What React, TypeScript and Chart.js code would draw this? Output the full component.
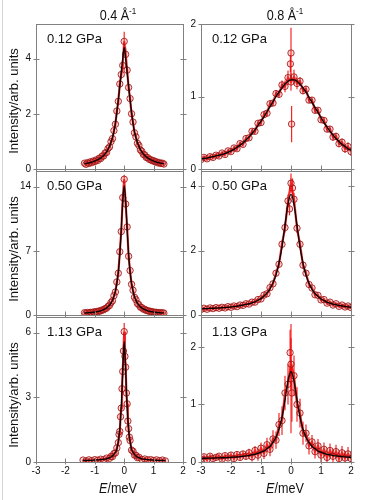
import React, { useEffect, useRef } from 'react';
import { Chart, registerables } from 'chart.js';
Chart.register(...registerables);

// ---------- data ----------
const xTicks = [-3, -2, -1, 0, 1, 2];
const yTicksA = [0, 2, 4];
const yTicksB = [0, 7, 14];
const yTicksC = [0, 3, 6];
const yTicksD = [0, 1, 2];
const yTicksE = [0, 2, 4];
const yTicksF = [0, 1, 2];

const xL = [-1.35,-1.3,-1.25,-1.2,-1.15,-1.1,-1.05,-1,-0.95,-0.9,-0.85,-0.8,-0.75,-0.7,-0.65,-0.6,-0.55,-0.5,-0.45,-0.4,-0.35,-0.3,-0.25,-0.2,-0.15,-0.1,-0.05,0,0.05,0.1,0.15,0.2,0.25,0.3,0.35,0.4,0.45,0.5,0.55,0.6,0.65,0.7,0.75,0.8,0.85,0.9,0.95,1,1.05,1.1,1.15,1.2,1.25,1.3,1.35];
const xC = [-1.4,-1.3,-1.2,-1.1,-1,-0.9,-0.8,-0.7,-0.6,-0.5,-0.45,-0.4,-0.35,-0.3,-0.25,-0.2,-0.175,-0.15,-0.125,-0.1,-0.075,-0.05,-0.025,0,0.025,0.05,0.075,0.1,0.125,0.15,0.175,0.2,0.25,0.3,0.35,0.4,0.45,0.5,0.6,0.7,0.8,0.9,1,1.1,1.2,1.3,1.4];
const xR = [-3,-2.9,-2.8,-2.7,-2.6,-2.5,-2.4,-2.3,-2.2,-2.1,-2,-1.9,-1.8,-1.7,-1.6,-1.5,-1.4,-1.3,-1.2,-1.1,-1,-0.9,-0.8,-0.7,-0.6,-0.5,-0.4,-0.3,-0.2,-0.1,0,0.1,0.2,0.3,0.4,0.5,0.6,0.7,0.8,0.9,1,1.1,1.2,1.3,1.4,1.5,1.6,1.7,1.8,1.9,2];

// 0.4 Å-1, 0.12 GPa
const fitA = [0.19,0.2,0.21,0.22,0.235,0.25,0.27,0.29,0.31,0.335,0.365,0.4,0.44,0.49,0.55,0.62,0.71,0.82,0.96,1.13,1.35,1.65,2.05,2.5,3.0,3.5,4.0,4.4,4.0,3.5,3.0,2.5,2.05,1.65,1.35,1.13,0.96,0.82,0.71,0.62,0.55,0.49,0.44,0.4,0.365,0.335,0.31,0.29,0.27,0.25,0.235,0.22,0.21,0.2,0.19];
const dataA = [0.21,0.17,0.23,0.2,0.26,0.23,0.29,0.27,0.33,0.31,0.39,0.38,0.47,0.47,0.58,0.6,0.74,0.8,0.99,1.1,1.39,1.62,2.1,2.45,3.08,3.42,3.75,4.62,4.15,3.58,2.95,2.55,2.0,1.7,1.31,1.16,0.93,0.85,0.69,0.64,0.53,0.51,0.42,0.41,0.35,0.34,0.3,0.3,0.26,0.26,0.22,0.23,0.2,0.21,0.18];
const errA = [0.03,0.03,0.03,0.03,0.03,0.03,0.03,0.03,0.03,0.03,0.03,0.03,0.04,0.04,0.04,0.04,0.05,0.05,0.06,0.06,0.07,0.08,0.09,0.1,0.12,0.15,0.25,0.35,0.25,0.15,0.12,0.1,0.09,0.08,0.07,0.06,0.06,0.05,0.05,0.04,0.04,0.04,0.04,0.03,0.03,0.03,0.03,0.03,0.03,0.03,0.03,0.03,0.03,0.03,0.03];

// 0.4 Å-1, 0.50 GPa
const fitB = [0.22,0.23,0.24,0.25,0.26,0.28,0.3,0.32,0.35,0.38,0.42,0.46,0.52,0.59,0.67,0.77,0.9,1.08,1.3,1.6,2.0,2.6,3.45,4.7,6.6,9.3,12.4,14.1,12.4,9.3,6.6,4.7,3.45,2.6,2.0,1.6,1.3,1.08,0.9,0.77,0.67,0.59,0.52,0.46,0.42,0.38,0.35,0.32,0.3,0.28,0.26,0.25,0.24,0.23,0.22];
const dataB = [0.25,0.2,0.27,0.22,0.29,0.25,0.33,0.3,0.38,0.35,0.45,0.44,0.55,0.57,0.7,0.74,0.94,1.04,1.35,1.55,2.1,2.5,3.6,4.55,6.9,9.1,12.8,14.8,12.1,9.6,6.4,4.85,3.35,2.7,1.93,1.66,1.25,1.12,0.86,0.8,0.64,0.62,0.5,0.48,0.4,0.4,0.33,0.33,0.28,0.29,0.24,0.26,0.22,0.24,0.21];
const errB = [0.05,0.05,0.05,0.05,0.05,0.05,0.05,0.05,0.05,0.05,0.05,0.05,0.06,0.06,0.06,0.06,0.07,0.07,0.08,0.08,0.1,0.12,0.15,0.18,0.25,0.3,0.35,0.5,0.35,0.3,0.25,0.18,0.15,0.12,0.1,0.08,0.08,0.07,0.07,0.06,0.06,0.06,0.06,0.05,0.05,0.05,0.05,0.05,0.05,0.05,0.05,0.05,0.05,0.05,0.05];

// 0.4 Å-1, 1.13 GPa
const fitC = [0.07,0.07,0.08,0.08,0.09,0.1,0.11,0.13,0.15,0.2,0.23,0.28,0.35,0.45,0.6,0.95,1.2,1.5,2.0,2.6,3.3,4.3,5.0,5.6,5.0,4.3,3.3,2.6,2.0,1.5,1.2,0.95,0.6,0.45,0.35,0.28,0.23,0.2,0.15,0.13,0.11,0.1,0.09,0.08,0.08,0.07,0.07];
const dataC = [0.09,0.05,0.1,0.06,0.11,0.08,0.13,0.11,0.18,0.17,0.26,0.25,0.39,0.42,0.65,0.9,1.28,1.42,2.1,2.5,3.4,4.2,5.15,6.05,4.9,4.4,3.2,2.7,1.9,1.55,1.15,1.0,0.55,0.5,0.32,0.31,0.2,0.22,0.12,0.14,0.1,0.11,0.07,0.1,0.06,0.09,0.05];
const errC = [0.03,0.03,0.03,0.03,0.03,0.03,0.03,0.03,0.03,0.04,0.04,0.05,0.05,0.06,0.07,0.08,0.1,0.12,0.15,0.18,0.2,0.25,0.3,0.4,0.3,0.25,0.2,0.18,0.15,0.12,0.1,0.08,0.07,0.06,0.05,0.05,0.04,0.04,0.03,0.03,0.03,0.03,0.03,0.03,0.03,0.03,0.03];

// 0.8 Å-1, 0.12 GPa
const fitD = [0.14,0.145,0.15,0.16,0.17,0.18,0.19,0.2,0.215,0.23,0.25,0.27,0.3,0.33,0.36,0.4,0.44,0.49,0.54,0.6,0.66,0.72,0.79,0.86,0.93,1.0,1.06,1.12,1.17,1.21,1.23,1.23,1.21,1.17,1.12,1.06,0.99,0.92,0.85,0.78,0.71,0.64,0.58,0.52,0.47,0.42,0.38,0.34,0.31,0.28,0.26];
const dataD = [0.13,0.16,0.14,0.17,0.16,0.19,0.18,0.22,0.2,0.25,0.24,0.29,0.28,0.35,0.34,0.42,0.43,0.52,0.52,0.63,0.64,0.75,0.77,0.9,0.91,1.04,1.03,1.16,1.14,1.26,1.2,1.27,1.18,1.21,1.08,1.1,0.95,0.95,0.81,0.81,0.68,0.67,0.55,0.55,0.44,0.45,0.35,0.37,0.28,0.31,0.24];
const errD = [0.03,0.03,0.03,0.03,0.03,0.03,0.03,0.03,0.03,0.03,0.03,0.03,0.03,0.03,0.03,0.03,0.03,0.03,0.03,0.03,0.04,0.04,0.04,0.04,0.04,0.05,0.05,0.06,0.08,0.1,0.12,0.1,0.08,0.06,0.05,0.05,0.04,0.04,0.04,0.04,0.04,0.04,0.04,0.04,0.05,0.05,0.05,0.05,0.06,0.06,0.06];
const spikeXD = [-0.02, 0, 0.02];
const spikeYD = [1.45, 1.6, 0.62];
const spikeErrD = [0.12, 0.35, 0.25];

// 0.8 Å-1, 0.50 GPa
const fitE = [0.19,0.196,0.2,0.205,0.21,0.215,0.22,0.225,0.235,0.24,0.25,0.26,0.275,0.29,0.31,0.33,0.35,0.38,0.41,0.46,0.51,0.59,0.68,0.81,1.0,1.25,1.62,2.13,2.79,3.45,3.75,3.45,2.78,2.12,1.61,1.24,0.99,0.8,0.67,0.58,0.5,0.45,0.4,0.37,0.34,0.32,0.3,0.28,0.27,0.255,0.245];
const dataE = [0.17,0.21,0.18,0.22,0.2,0.23,0.21,0.24,0.22,0.26,0.24,0.28,0.26,0.31,0.3,0.35,0.34,0.4,0.4,0.48,0.5,0.62,0.66,0.85,0.97,1.3,1.58,2.2,2.72,3.55,4.1,3.6,2.7,2.2,1.55,1.3,0.95,0.84,0.63,0.61,0.47,0.48,0.37,0.4,0.31,0.35,0.27,0.31,0.25,0.28,0.23];
const errE = [0.04,0.04,0.04,0.04,0.04,0.04,0.04,0.04,0.04,0.04,0.04,0.04,0.04,0.04,0.04,0.04,0.04,0.04,0.04,0.04,0.05,0.05,0.06,0.06,0.07,0.08,0.1,0.12,0.15,0.2,0.3,0.2,0.15,0.12,0.1,0.08,0.07,0.06,0.06,0.05,0.05,0.05,0.05,0.05,0.05,0.05,0.05,0.05,0.05,0.05,0.05];
const spikeXE = [-0.05, 0.05];
const spikeYE = [3.3, 3.95];
const spikeErrE = [0.2, 0.3];

// 0.8 Å-1, 1.13 GPa
const fitF = [0.064,0.065,0.066,0.067,0.069,0.07,0.072,0.074,0.076,0.078,0.081,0.085,0.088,0.093,0.099,0.105,0.112,0.122,0.134,0.15,0.17,0.19,0.23,0.27,0.34,0.43,0.57,0.78,1.08,1.41,1.57,1.41,1.08,0.78,0.57,0.43,0.34,0.27,0.23,0.19,0.17,0.15,0.134,0.122,0.112,0.105,0.099,0.093,0.088,0.085,0.081];
const dataF = [0.05,0.09,0.04,0.1,0.06,0.08,0.1,0.05,0.11,0.07,0.12,0.06,0.13,0.08,0.14,0.1,0.16,0.09,0.2,0.12,0.24,0.15,0.3,0.22,0.4,0.38,0.65,0.72,1.2,1.35,1.7,1.5,1.0,0.85,0.5,0.5,0.28,0.35,0.18,0.28,0.12,0.22,0.08,0.2,0.1,0.18,0.06,0.16,0.07,0.14,0.06];
const errF = [0.04,0.04,0.04,0.04,0.04,0.04,0.04,0.04,0.04,0.04,0.05,0.05,0.05,0.05,0.05,0.06,0.07,0.08,0.08,0.1,0.1,0.1,0.12,0.12,0.15,0.15,0.2,0.25,0.3,0.35,0.45,0.35,0.3,0.25,0.2,0.15,0.15,0.12,0.12,0.12,0.12,0.12,0.12,0.12,0.12,0.12,0.12,0.12,0.12,0.12,0.12];
const spikeXF = [-0.03, 0, 0.03];
const spikeYF = [1.9, 1.45, 1.2];
const spikeErrF = [0.4, 0.95, 0.5];

const pressures = ['0.12 GPa', '0.50 GPa', '1.13 GPa'];
const qLabels = ['0.4', '0.8'];

// ---------- layout / style ----------
const FONT = '"Liberation Sans", Arial, sans-serif';
const COLS = [{ left: 36, width: 147 }, { left: 201, width: 150 }];
const ROWS = [{ top: 23, height: 147 }, { top: 170, height: 146 }, { top: 316, height: 146 }];
const RED_LINE = 'rgba(235,10,10,0.85)';
const CIRCLE = 'rgba(160,20,20,0.85)';

type PanelDef = {
  xs: number[]; ys: number[]; err: number[]; fit: number[];
  sx?: number[]; sy?: number[]; se?: number[];
  ymax: number; yt: number[]; row: number; col: number;
};

const panels: PanelDef[] = [
  { xs: xL, ys: dataA, err: errA, fit: fitA, ymax: 5.25, yt: yTicksA, row: 0, col: 0 },
  { xs: xR, ys: dataD, err: errD, fit: fitD, sx: spikeXD, sy: spikeYD, se: spikeErrD, ymax: 2, yt: yTicksD, row: 0, col: 1 },
  { xs: xL, ys: dataB, err: errB, fit: fitB, ymax: 15.7, yt: yTicksB, row: 1, col: 0 },
  { xs: xR, ys: dataE, err: errE, fit: fitE, sx: spikeXE, sy: spikeYE, se: spikeErrE, ymax: 4.48, yt: yTicksE, row: 1, col: 1 },
  { xs: xC, ys: dataC, err: errC, fit: fitC, ymax: 6.73, yt: yTicksC, row: 2, col: 0 },
  { xs: xR, ys: dataF, err: errF, fit: fitF, sx: spikeXF, sy: spikeYF, se: spikeErrF, ymax: 2.52, yt: yTicksF, row: 2, col: 1 },
];

const errorBarPlugin = {
  id: 'errorBars',
  beforeDatasetsDraw(chart: any) {
    const { ctx, chartArea: a, scales } = chart;
    ctx.save();
    ctx.beginPath();
    ctx.rect(a.left, a.top, a.right - a.left, a.bottom - a.top);
    ctx.clip();
    ctx.strokeStyle = 'rgba(245,0,0,0.85)';
    ctx.lineWidth = 1.2;
    chart.data.datasets.forEach((ds: any) => {
      if (!ds.errorBars) return;
      ds.data.forEach((p: any, i: number) => {
        const e = ds.errorBars[i];
        const px = scales.x.getPixelForValue(p.x);
        const y1 = scales.y.getPixelForValue(p.y - e);
        const y2 = scales.y.getPixelForValue(p.y + e);
        ctx.beginPath();
        ctx.moveTo(px, y1);
        ctx.lineTo(px, y2);
        ctx.stroke();
      });
    });
    ctx.restore();
  },
};

const framePlugin = {
  id: 'frame',
  afterDraw(chart: any) {
    const { ctx, chartArea: a, scales } = chart;
    ctx.save();
    ctx.strokeStyle = '#808080';
    ctx.lineWidth = 1;
    const L = Math.round(a.left) + 0.5, R = Math.round(a.right) + 0.5;
    const T = Math.round(a.top) + 0.5, B = Math.round(a.bottom) + 0.5;
    ctx.strokeRect(L, T, R - L, B - T);
    ctx.beginPath();
    scales.y.ticks.forEach((t: any) => {
      const py = Math.round(scales.y.getPixelForValue(t.value)) + 0.5;
      ctx.moveTo(L - 3, py); ctx.lineTo(L + 3, py);
      ctx.moveTo(R - 3, py); ctx.lineTo(R + 3, py);
    });
    scales.x.ticks.forEach((t: any) => {
      const px = Math.round(scales.x.getPixelForValue(t.value)) + 0.5;
      ctx.moveTo(px, B - 4); ctx.lineTo(px, B + 2);
    });
    ctx.stroke();
    ctx.restore();
  },
};

const PAD_L = 32, PAD_R = 10, PAD_T = 10;

function Panel({ p }: { p: PanelDef }) {
  const ref = useRef<HTMLCanvasElement>(null);
  const col = COLS[p.col], row = ROWS[p.row];
  const bottomRow = p.row === 2;
  const padB = bottomRow ? 24 : 10;
  const w = col.width + PAD_L + PAD_R;
  const h = row.height + PAD_T + padB;
  useEffect(() => {
    const datasets: any[] = [
      {
        data: p.xs.map((x, i) => ({ x, y: p.fit[i] })),
        showLine: true, borderColor: '#000', borderWidth: 1.3, pointRadius: 0,
        cubicInterpolationMode: 'monotone', fill: false,
      },
      {
        data: p.xs.map((x, i) => ({ x, y: p.ys[i] })),
        errorBars: p.err,
        showLine: true, borderColor: RED_LINE, borderWidth: 2.2, tension: 0, fill: false,
        pointRadius: 3.2, pointBorderWidth: 1,
        pointBorderColor: CIRCLE, pointBackgroundColor: 'rgba(255,60,60,0.2)',
      },
    ];
    if (p.sx) {
      datasets.push({
        data: p.sx.map((x, i) => ({ x, y: p.sy![i] })),
        errorBars: p.se,
        pointRadius: 3.2, pointBorderWidth: 1,
        pointBorderColor: CIRCLE, pointBackgroundColor: 'rgba(255,60,60,0.2)',
      });
    }
    const chart = new Chart(ref.current!, {
      type: 'scatter',
      data: { datasets },
      options: {
        animation: false,
        responsive: false,
        maintainAspectRatio: false,
        devicePixelRatio: 1,
        events: [],
        layout: { padding: { top: PAD_T, right: PAD_R, left: 0, bottom: 0 } },
        plugins: { legend: { display: false }, tooltip: { enabled: false }, title: { display: false } },
        scales: {
          x: {
            type: 'linear', min: -3, max: 2,
            afterBuildTicks: (s: any) => { s.ticks = xTicks.map((v) => ({ value: v })); },
            afterFit: (s: any) => { s.height = padB; },
            grid: { display: false, drawTicks: false },
            border: { display: false },
            ticks: { display: bottomRow, autoSkip: false, maxRotation: 0, padding: 3, color: '#111', font: { family: FONT, size: 10 } },
          },
          y: {
            type: 'linear', min: 0, max: p.ymax,
            afterBuildTicks: (s: any) => { s.ticks = p.yt.map((v) => ({ value: v })); },
            afterFit: (s: any) => { s.width = PAD_L; },
            grid: { display: false, drawTicks: false },
            border: { display: false },
            ticks: { autoSkip: false, padding: 5, color: '#111', font: { family: FONT, size: 10 } },
          },
        },
      } as any,
      plugins: [errorBarPlugin, framePlugin],
    });
    return () => chart.destroy();
  }, []);
  return (
    <canvas
      ref={ref}
      width={w}
      height={h}
      style={{ position: 'absolute', left: col.left - PAD_L, top: row.top - PAD_T, width: w, height: h }}
    />
  );
}

const textBase: React.CSSProperties = { position: 'absolute', fontFamily: FONT, color: '#111', whiteSpace: 'nowrap' };

export default function App() {
  const yLabelCenters = [101, 249, 395];
  const colCenters = [118, 285];
  return (
    <div style={{ position: 'absolute', left: 0, top: 0, width: 366, height: 500, background: '#fff', overflow: 'hidden' }}>
      <div style={{ position: 'absolute', left: 2, top: 0, width: 1, height: 500, background: '#d6d6d6' }} />
      {panels.map((p, i) => <Panel key={i} p={p} />)}
      {qLabels.map((q, i) => (
        <div key={'q' + i} style={{ ...textBase, left: colCenters[i], top: 15, fontSize: 14, transform: 'translate(-50%,-50%) scaleX(0.9)' }}>
          {q} Å<span style={{ fontSize: 9, position: 'relative', top: -6 }}>-1</span>
        </div>
      ))}
      {ROWS.map((r, ri) => COLS.map((c, ci) => (
        <div key={'p' + ri + ci} style={{ ...textBase, left: c.left + 11, top: r.top + 15, fontSize: 13, transform: 'translateY(-50%)' }}>
          {pressures[ri]}
        </div>
      )))}
      {yLabelCenters.map((y, i) => (
        <div key={'y' + i} style={{ ...textBase, left: 13, top: y, fontSize: 13, transform: 'translate(-50%,-50%) rotate(-90deg)' }}>
          Intensity/arb. units
        </div>
      ))}
      {colCenters.map((x, i) => (
        <div key={'e' + i} style={{ ...textBase, left: x, top: 488, fontSize: 14, transform: 'translate(-50%,-50%) scaleX(0.9)' }}>
          <i>E</i>/meV
        </div>
      ))}
    </div>
  );
}
